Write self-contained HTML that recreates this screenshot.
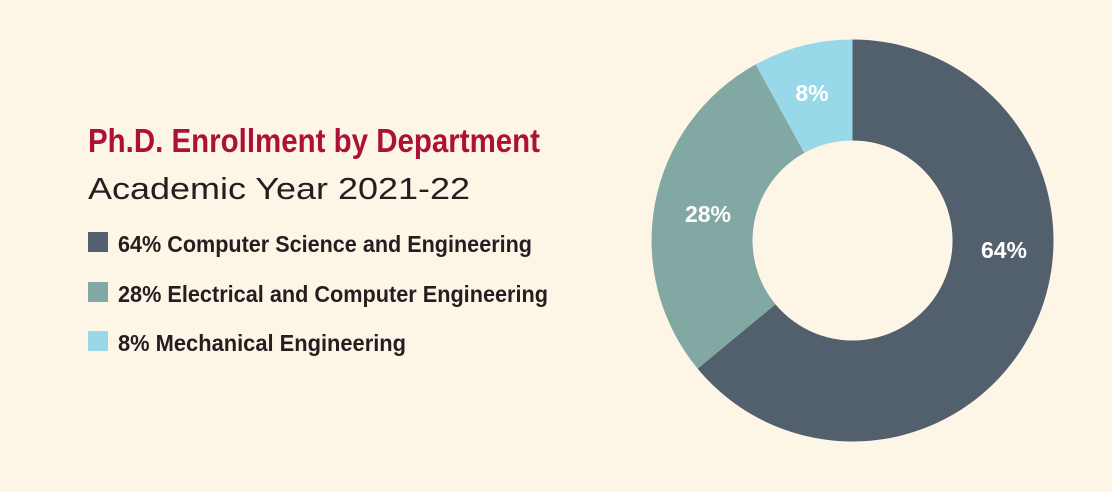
<!DOCTYPE html>
<html><head><meta charset="utf-8"><style>
html,body{margin:0;padding:0;background:#fdf6e6;}
svg{display:block;}
text{font-family:"Liberation Sans Narrow","Liberation Sans",sans-serif;}
</style></head><body>
<svg width="1112" height="492" viewBox="0 0 1112 492" xmlns="http://www.w3.org/2000/svg">
<rect width="1112" height="492" fill="#fdf6e6"/>
<text x="88" y="152" font-size="33" font-weight="bold" fill="#ad1038" textLength="452" lengthAdjust="spacingAndGlyphs">Ph.D. Enrollment by Department</text>
<text x="88" y="199" font-size="31" fill="#231f20" style="font-family:'Liberation Sans',sans-serif" textLength="382" lengthAdjust="spacingAndGlyphs">Academic Year 2021-22</text>
<rect x="88" y="232" width="20" height="20" fill="#52606e"/>
<rect x="88" y="282" width="20" height="20" fill="#82a8a4"/>
<rect x="88" y="331" width="20" height="20" fill="#98d8e8"/>
<g font-size="23" font-weight="bold" fill="#231f20">
<text x="118" y="252" textLength="414" lengthAdjust="spacingAndGlyphs">64% Computer Science and Engineering</text>
<text x="118" y="302" textLength="430" lengthAdjust="spacingAndGlyphs">28% Electrical and Computer Engineering</text>
<text x="118" y="351" textLength="288" lengthAdjust="spacingAndGlyphs">8% Mechanical Engineering</text>
</g>
<path d="M852.5 39.5 A201 201 0 1 1 697.6 368.6 L775.45 304.2 A100 100 0 1 0 852.5 140.5 Z" fill="#52606e"/>
<path d="M697.6 368.6 A201 201 0 0 1 755.7 64.4 L804.3 152.9 A100 100 0 0 0 775.45 304.2 Z" fill="#82a8a4"/>
<path d="M755.7 64.4 A201 201 0 0 1 852.5 39.5 L852.5 140.5 A100 100 0 0 0 804.3 152.9 Z" fill="#98d8e8"/>
<g font-size="23" font-weight="bold" fill="#ffffff" text-anchor="middle">
<text x="1004" y="258">64%</text>
<text x="708" y="222">28%</text>
<text x="812" y="101">8%</text>
</g>
</svg>
</body></html>
